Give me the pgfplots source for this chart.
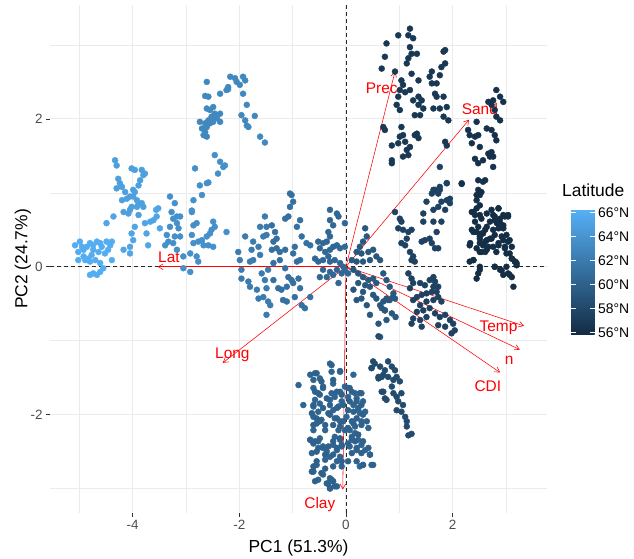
\documentclass[border=0pt]{standalone}
\usepackage{fontspec}
\setmainfont{Liberation Sans}
\usepackage{pgfplots}
\usepackage{pgfplotstable}
\pgfplotsset{compat=1.18}
\usetikzlibrary{arrows.meta}
\definecolor{gridgrey}{RGB}{235,235,235}
\definecolor{labgrey}{RGB}{77,77,77}
\definecolor{tickgrey}{RGB}{51,51,51}
\definecolor{zeroline}{RGB}{40,40,40}
\tikzset{
  loadarrow/.style={red, line width=0.55bp, -{Straight Barb[length=4.9bp,width=5.7bp]}},
  zerodash/.style={zeroline, line width=0.7bp, dash pattern=on 4bp off 3bp},
}
\pgfplotsset{
  pts/.style={scatter, only marks, mark=*, mark size=3bp,
    scatter/use mapped color={draw=mapped color, fill=mapped color}},
}

% Clusters of PCA scores (PC1, PC2)
\pgfplotstableread{
x y
-5.08 0.29
-4.99 0.34
-4.95 0.27
-5.02 0.20
-4.92 0.23
-4.86 0.27
-4.80 0.32
-4.74 0.29
-4.67 0.34
-4.61 0.32
-4.58 0.27
-4.64 0.20
-4.74 0.23
-4.77 0.16
-4.83 0.11
-4.89 0.09
-5.02 0.09
-4.80 0.07
-4.70 0.09
-4.61 0.05
-4.55 -0.02
-4.61 -0.07
-4.67 -0.11
-4.80 -0.11
-4.74 -0.09
-4.52 0.18
-4.42 0.29
-4.39 0.34
-4.49 0.34
-4.39 0.09
-4.46 0.23
-4.92 0.14
}\cA
\pgfplotstableread{
x y
-4.49 0.59
-4.36 0.68
-4.17 0.23
-4.05 0.18
-4.05 0.27
-3.99 0.36
-4.02 0.45
-3.96 0.54
-3.74 0.45
-3.71 0.29
-3.77 0.59
-3.67 0.61
-3.61 0.63
-3.55 0.68
-3.56 0.77
-3.52 0.79
-3.49 0.52
}\cB
\pgfplotstableread{
x y
-4.33 1.44
-4.30 1.37
-4.27 1.19
-4.24 1.13
-4.30 1.06
-4.20 1.08
-4.14 1.01
-4.20 0.90
-4.11 0.92
-4.05 0.95
-3.99 0.95
-3.92 0.90
-3.89 0.86
-3.83 0.86
-3.96 1.01
-3.99 1.04
-3.89 1.10
-3.86 1.17
-3.80 1.24
-3.77 1.26
-3.83 1.31
-4.02 1.33
-3.96 1.31
-4.17 0.74
-4.08 0.72
-4.02 0.81
-4.05 0.77
-3.89 0.70
-3.92 0.81
-3.80 0.81
}\cC
\pgfplotstableread{
x y
-3.30 0.95
-3.21 0.86
-3.27 0.74
-3.24 0.65
-3.17 0.68
-3.11 0.68
-3.17 0.59
-3.14 0.52
-3.30 0.54
-3.36 0.43
-3.21 0.41
-3.11 0.41
-3.33 0.34
-3.24 0.32
-3.39 0.29
-3.17 0.23
-3.05 0.14
-2.92 0.18
-2.86 0.32
-2.89 0.43
-2.86 0.56
-2.80 0.59
-2.89 0.74
-2.86 0.90
-2.70 0.97
-2.74 1.10
-2.61 1.13
-2.83 1.33
-2.49 0.61
-2.46 0.54
-2.52 0.50
-2.55 0.45
-2.61 0.41
-2.70 0.36
-2.67 0.29
-2.77 0.34
-2.58 0.29
-2.49 0.27
-2.80 0.14
-2.77 0.07
-2.92 -0.07
-3.05 -0.02
-2.24 0.47
-2.46 1.51
-2.36 1.42
-2.30 1.35
-2.27 1.37
-2.40 1.26
-2.58 1.14
-2.89 0.76
}\cD
\pgfplotstableread{
x y
-2.61 2.50
-2.64 2.31
-2.58 2.30
-2.61 2.14
-2.55 2.12
-2.49 2.16
-2.46 2.07
-2.36 2.07
-2.42 2.01
-2.52 2.03
-2.58 1.98
-2.64 1.94
-2.74 1.96
-2.70 1.87
-2.61 1.89
-2.55 1.94
-2.49 1.96
-2.67 1.78
-2.61 1.76
-2.64 1.82
-2.36 1.96
-2.36 2.34
-2.24 2.39
-2.21 2.43
-2.17 2.57
-2.08 2.55
-2.05 2.50
-1.93 2.57
-1.89 2.52
-1.99 2.46
-1.93 2.34
-1.96 2.05
-1.89 1.98
-1.83 1.89
-1.86 1.91
-1.71 2.04
-1.61 1.76
-1.52 1.68
-1.86 2.19
-2.21 2.40
}\cE
\pgfplotstableread{
x y
-1.52 0.68
-1.61 0.54
-1.49 0.54
-1.55 0.41
-1.49 0.43
-1.89 0.41
-1.74 0.34
-1.64 0.27
-1.77 0.23
-1.74 0.09
-1.80 0.07
-1.61 0.16
-2.02 0.20
-1.99 0.09
-1.96 -0.04
-1.96 -0.16
-1.83 -0.20
-1.80 -0.27
-1.67 -0.31
-1.64 -0.43
-1.55 -0.41
-1.49 -0.29
-1.52 -0.18
-1.46 -0.04
-1.58 -0.09
-1.42 -0.52
-1.49 -0.65
-1.46 -0.47
}\cF
\pgfplotstableread{
x y
-1.05 0.99
-1.02 0.97
-1.05 0.81
-0.99 0.88
-1.14 0.65
-1.08 0.68
-0.86 0.63
-0.92 0.54
-0.83 0.41
-0.67 0.29
-0.74 0.32
-0.96 0.27
-0.99 0.18
-0.86 0.09
-0.92 0.07
-1.14 0.23
-1.24 0.20
-1.30 0.25
-1.24 0.09
-1.14 -0.02
-1.08 -0.14
-1.02 -0.18
-0.89 -0.16
-0.86 -0.29
-0.99 -0.22
-1.11 -0.27
-1.21 -0.31
-1.27 -0.29
-1.36 -0.18
-1.39 0.56
-1.33 0.47
-1.36 0.34
-1.30 0.38
-1.39 0.23
-1.36 0.05
-1.11 -0.47
-0.96 -0.41
-0.77 -0.56
-0.83 -0.52
-0.67 -0.41
-1.18 -0.45
}\cG
\pgfplotstableread{
x y
-0.30 0.77
-0.17 0.72
-0.14 0.68
-0.30 0.63
-0.24 0.56
-0.02 0.59
-0.33 0.47
-0.30 0.41
-0.36 0.34
-0.43 0.32
-0.52 0.34
-0.49 0.25
-0.39 0.20
-0.30 0.23
-0.24 0.27
-0.17 0.29
-0.11 0.25
-0.02 0.27
-0.33 0.14
-0.43 0.09
-0.52 0.07
-0.30 0.07
-0.21 0.09
-0.11 0.05
-0.05 0.00
-0.17 -0.04
-0.30 -0.07
-0.43 -0.04
-0.49 -0.14
-0.36 -0.14
-0.24 -0.11
-0.14 -0.22
-0.02 -0.04
0.04 -0.09
-0.08 -0.09
-0.58 0.11
}\cH
\pgfplotstableread{
x y
0.36 0.52
0.39 0.41
0.32 0.34
0.26 0.27
0.20 0.20
0.29 0.18
0.42 0.20
0.51 0.23
0.57 0.14
0.64 0.09
0.45 0.09
0.32 0.07
0.20 0.07
0.11 0.09
0.14 -0.04
0.23 -0.09
0.32 -0.14
0.42 -0.18
0.51 -0.16
0.57 -0.22
0.45 -0.27
0.36 -0.25
0.23 -0.22
0.14 -0.31
0.32 -0.34
0.29 -0.43
0.20 -0.45
0.39 -0.52
0.45 -0.65
0.64 -0.52
0.70 -0.47
0.76 -0.43
0.82 -0.45
0.88 -0.41
0.73 -0.59
0.67 -0.56
0.61 -0.77
0.64 -0.95
0.57 -0.43
0.51 -0.38
0.70 -0.09
0.76 -0.18
0.82 -0.27
0.89 -0.36
0.92 -0.43
0.79 -0.45
0.73 -0.59
0.86 -0.63
0.93 -0.68
0.76 -0.72
}\cI
\pgfplotstableread{
x y
0.92 0.74
1.01 0.65
1.04 0.61
0.98 0.52
1.07 0.50
1.17 0.47
1.23 0.50
1.14 0.38
1.04 0.32
1.11 0.29
1.20 0.20
1.26 0.14
1.23 0.09
1.29 0.07
1.42 0.34
1.48 0.36
1.57 0.38
1.61 0.32
1.67 0.25
1.73 0.25
1.70 0.47
1.64 0.61
1.79 0.61
1.45 0.61
1.45 0.72
1.64 0.77
1.73 0.81
1.86 0.77
1.79 0.88
1.89 0.90
1.95 0.86
1.73 0.99
1.76 1.04
1.64 1.04
1.89 1.13
2.17 1.13
1.17 -0.09
1.23 -0.16
1.26 -0.22
1.20 -0.29
1.39 -0.22
1.48 -0.25
1.57 -0.18
1.64 -0.14
1.67 -0.20
1.73 -0.27
1.61 -0.34
1.51 -0.36
1.42 -0.38
1.33 -0.41
1.26 -0.45
1.39 -0.52
1.51 -0.47
1.64 -0.45
1.73 -0.41
1.79 -0.47
1.57 -0.56
1.45 -0.59
1.33 -0.61
1.26 -0.70
1.39 -0.72
1.51 -0.68
1.67 -0.63
1.76 -0.68
1.86 -0.65
1.95 -0.72
2.01 -0.77
2.04 -0.86
1.98 -0.90
1.86 -0.81
1.73 -0.79
1.42 -0.81
1.23 -0.77
1.64 -0.27
1.70 -0.34
1.76 1.35
1.76 1.08
1.67 1.04
1.61 0.99
1.89 1.13
1.95 0.92
1.51 0.88
}\cJ
\pgfplotstableread{
x y
1.20 3.22
1.17 3.13
1.26 3.09
0.98 3.13
0.76 3.02
0.73 2.84
0.67 2.68
0.92 2.64
1.20 2.97
1.23 2.88
1.33 2.88
1.17 2.82
1.14 2.75
1.23 2.61
1.36 2.52
1.61 2.64
1.57 2.57
1.61 2.48
1.70 2.48
1.76 2.59
1.79 2.70
1.86 2.75
1.86 2.93
1.83 2.91
1.67 2.34
1.70 2.30
1.83 2.30
1.76 2.14
1.64 2.14
1.89 2.16
1.83 2.03
1.92 1.98
1.04 2.52
1.07 2.46
1.01 2.39
0.98 2.30
1.11 2.36
1.20 2.39
1.26 2.25
1.36 2.30
1.42 2.25
1.36 2.19
1.45 2.14
1.39 2.05
1.29 2.05
0.95 2.19
1.01 2.12
0.70 1.89
0.73 1.85
1.04 1.89
1.07 1.78
1.01 1.76
0.98 1.67
1.11 1.69
1.29 1.78
1.36 1.74
1.33 1.80
1.20 1.62
1.14 1.58
1.07 1.49
0.86 1.64
0.86 1.44
0.86 1.40
1.17 1.51
1.86 1.69
1.89 1.64
}\cK
\pgfplotstableread{
x y
2.82 2.39
2.89 2.30
2.95 2.23
2.76 2.25
2.67 2.23
2.73 2.19
2.79 2.12
2.82 2.03
2.89 1.98
2.64 1.87
2.73 1.85
2.79 1.78
2.82 1.71
2.45 1.96
2.29 1.85
2.32 1.78
2.42 1.76
2.36 1.67
2.48 1.78
2.51 1.62
2.42 1.46
2.48 1.40
2.57 1.44
2.67 1.53
2.73 1.55
2.76 1.49
2.70 1.49
2.76 1.35
2.57 1.15
2.48 1.04
2.17 1.12
2.48 1.17
2.61 1.17
2.51 0.97
2.45 0.90
}\cL
\pgfplotstableread{
x y
2.36 0.74
2.45 0.79
2.51 0.70
2.42 0.61
2.36 0.50
2.45 0.47
2.51 0.41
2.57 0.45
2.64 0.54
2.70 0.61
2.79 0.68
2.86 0.79
2.89 0.65
2.98 0.68
3.04 0.68
2.95 0.56
2.86 0.52
2.79 0.43
2.70 0.38
2.61 0.34
2.51 0.32
2.45 0.25
2.54 0.20
2.64 0.23
2.76 0.27
2.86 0.32
2.95 0.36
3.01 0.43
3.04 0.34
2.98 0.25
3.07 0.18
3.11 0.11
3.17 0.07
3.20 0.02
3.01 0.00
3.04 -0.09
3.11 -0.14
3.14 -0.27
2.79 0.00
2.92 -0.05
2.51 0.00
2.45 -0.16
2.33 0.32
2.39 0.09
2.73 0.77
2.83 0.59
2.64 0.72
2.45 0.97
2.54 1.01
2.51 0.83
2.39 0.74
2.42 0.70
2.54 0.65
2.39 0.47
2.32 0.29
2.48 0.54
2.54 0.45
2.61 0.50
2.51 0.38
2.64 0.36
2.57 0.29
2.67 0.27
2.61 0.20
2.51 0.20
2.73 0.38
2.76 0.50
2.79 0.63
2.86 0.79
2.76 0.70
2.89 0.59
2.95 0.70
3.04 0.70
2.95 0.52
2.92 0.41
2.86 0.29
2.82 0.20
2.98 0.27
3.07 0.36
3.11 0.27
3.01 0.18
3.11 0.11
3.17 0.07
3.20 0.05
2.39 0.09
2.32 0.07
2.79 0.00
2.89 -0.04
2.95 -0.11
3.07 -0.11
2.48 -0.09
2.51 -0.04
}\cLb
\pgfplotstableread{
x y
-0.89 -1.60
-0.80 -1.87
-0.67 -1.46
-0.61 -1.53
-0.55 -1.44
-0.49 -1.51
-0.43 -1.62
-0.61 -1.64
-0.52 -1.71
-0.58 -1.80
-0.49 -1.85
-0.61 -1.89
-0.52 -1.96
-0.61 -2.03
-0.55 -2.12
-0.46 -2.07
-0.39 -2.21
-0.61 -2.21
-0.67 -2.34
-0.58 -2.36
-0.49 -2.32
-0.52 -2.45
-0.64 -2.52
-0.43 -2.43
-0.36 -2.50
-0.30 -2.57
-0.39 -2.61
-0.55 -2.68
-0.61 -2.77
-0.43 -2.81
-0.52 -2.88
-0.33 -2.93
-0.27 -2.88
-0.21 -2.97
-0.30 -2.99
-0.30 -1.31
-0.27 -1.42
-0.24 -1.58
-0.27 -1.71
-0.30 -1.80
-0.21 -1.76
-0.11 -1.69
-0.08 -1.82
-0.14 -1.89
-0.24 -1.94
-0.33 -1.98
-0.21 -2.05
-0.11 -2.09
-0.14 -2.21
-0.21 -2.30
-0.11 -2.34
-0.24 -2.41
-0.17 -2.48
-0.08 -2.43
-0.11 -2.57
-0.17 -2.63
-0.08 -2.70
-0.11 -1.42
0.14 -1.46
0.07 -1.64
0.17 -1.71
0.04 -1.76
0.20 -1.78
0.14 -1.87
0.23 -1.94
0.29 -1.71
0.32 -1.82
0.26 -1.98
0.36 -1.96
0.29 -2.09
0.42 -2.18
0.14 -2.12
0.07 -2.21
0.17 -2.25
0.11 -2.34
0.23 -2.34
0.29 -2.41
0.20 -2.48
0.36 -2.48
0.45 -2.54
0.51 -2.68
0.32 -2.68
0.26 -2.70
0.07 -2.43
-0.02 -2.21
0.01 -2.03
-0.02 -1.62
}\cM
\pgfplotstableread{
x y
-0.58 -1.44
-0.46 -1.55
-0.58 -1.69
-0.49 -1.73
-0.43 -1.64
-0.36 -1.78
-0.27 -1.33
-0.11 -1.41
-0.24 -1.53
-0.17 -1.69
-0.08 -1.73
-0.05 -1.87
-0.17 -1.91
-0.30 -1.87
-0.43 -1.91
-0.61 -1.87
-0.64 -1.98
-0.55 -2.05
-0.61 -2.14
-0.49 -2.09
-0.39 -2.14
-0.30 -2.00
-0.17 -2.05
-0.24 -2.14
-0.11 -2.16
-0.05 -2.09
0.04 -1.64
0.11 -1.69
0.26 -1.71
0.20 -1.82
0.07 -1.82
0.04 -1.94
0.14 -1.96
0.23 -1.91
0.29 -1.87
0.32 -2.00
0.20 -2.05
0.11 -2.09
0.04 -2.18
0.17 -2.16
0.29 -2.14
0.39 -2.09
0.23 -2.27
0.11 -2.30
0.04 -2.39
0.17 -2.36
0.32 -2.36
0.42 -2.45
0.45 -2.54
0.29 -2.52
0.20 -2.45
0.11 -2.52
0.04 -2.63
0.20 -2.63
0.32 -2.68
0.48 -2.68
-0.67 -2.34
-0.61 -2.39
-0.52 -2.36
-0.55 -2.50
-0.43 -2.45
-0.33 -2.43
-0.24 -2.36
-0.17 -2.45
-0.11 -2.32
-0.08 -2.41
-0.24 -2.54
-0.39 -2.54
-0.55 -2.63
-0.61 -2.70
-0.64 -2.77
-0.46 -2.79
-0.39 -2.73
-0.24 -2.70
-0.08 -2.63
-0.30 -2.86
-0.36 -2.93
-0.24 -2.90
-0.17 -2.97
-0.30 -3.00
-0.58 -2.90
}\cMb
\pgfplotstableread{
x y
0.61 -0.94
0.51 -1.28
0.48 -1.37
0.64 -1.35
0.73 -1.40
0.79 -1.28
0.86 -1.35
0.92 -1.40
0.95 -1.49
1.01 -1.55
0.89 -1.53
0.79 -1.49
0.67 -1.49
0.61 -1.51
0.70 -1.69
0.76 -1.80
0.86 -1.62
0.89 -1.71
0.95 -1.76
1.04 -1.71
0.98 -1.82
1.07 -1.87
0.95 -1.94
1.04 -1.96
1.11 -2.03
1.14 -2.09
1.14 -2.16
1.17 -2.28
1.23 -2.26
0.48 -1.37
0.54 -1.31
0.61 -1.49
0.70 -1.46
0.67 -1.69
0.73 -1.78
}\cN

\begin{document}
\begin{tikzpicture}
\begin{axis}[
  at={(50bp,46bp)}, anchor=south west,
  scale only axis, width=497bp, height=508bp,
  xmin=-5.55, xmax=3.77, ymin=-3.33, ymax=3.54,
  axis line style={draw=none},
  xtick={-4,-2,0,2}, xticklabels={-4,-2,0,2},
  ytick={-2,0,2}, yticklabels={-2,0,2},
  minor xtick={-5,-3,-1,1,3}, minor ytick={-3,-1,1,3},
  grid=both,
  major grid style={color=gridgrey, line width=1.0bp},
  minor grid style={color=gridgrey, line width=0.6bp},
  tick align=outside, tick pos=left,
  major tick length=4bp, minor tick length=0pt,
  tick style={color=tickgrey, line width=0.6bp},
  ticklabel style={font=\fontsize{13.5}{16}\selectfont, text=labgrey},
  xlabel={PC1 (51.3\%)}, ylabel={PC2 (24.7\%)},
  label style={font=\fontsize{17.5}{20}\selectfont},
  xlabel style={at={(axis description cs:0.5,-0.0768)}, anchor=base},
  ylabel style={at={(axis description cs:-0.0453,0.5)}, anchor=base},
  colormap={lat}{rgb255=(19,43,67) rgb255=(86,177,247)},
  point meta min=55.8, point meta max=66.3,
  colorbar shift/.style={},
  colorbar/width=23.5bp,
  colorbar,
  colorbar style={
    at={(parent axis.south east)}, anchor=south west,
    xshift=24bp, yshift=178bp,
    scale only axis, width=23.5bp, height=126bp,
    grid=none, xlabel={}, ylabel={},
    xtick=\empty,
    ytick={56,58,60,62,64,66},
    yticklabels={56°N,58°N,60°N,62°N,64°N,66°N},
    minor ytick={}, minor xtick={},
    axis line style={draw=none},
    tick align=inside, ytick pos=both, yticklabel pos=right,
    major tick length=4.5bp,
    tick style={color=white, line width=0.8bp},
    yticklabel style={font=\fontsize{14}{16}\selectfont, text=black},
  },
]
\addplot[pts, point meta={65.9}] table {\cA};
\addplot[pts, point meta={65.3}] table {\cB};
\addplot[pts, point meta={64.8}] table {\cC};
\addplot[pts, point meta={63.6}] table {\cD};
\addplot[pts, point meta={63.0}] table {\cE};
\addplot[pts, point meta={62.0}] table {\cF};
\addplot[pts, point meta={61.2}] table {\cG};
\addplot[pts, point meta={60.5}] table {\cH};
\addplot[pts, point meta={59.3}] table {\cI};
\addplot[pts, point meta={57.6}] table {\cJ};
\addplot[pts, point meta={56.8}] table {\cK};
\addplot[pts, point meta={56.3}] table {\cL};
\addplot[pts, point meta={56.0}] table {\cLb};
\addplot[pts, point meta={60.3}] table {\cM};
\addplot[pts, point meta={60.0}] table {\cMb};
\addplot[pts, point meta={58.3}] table {\cN};
% reference lines
\addplot[zerodash, no marks] coordinates {(-5.55,0) (3.77,0)};
\addplot[zerodash, no marks] coordinates {(0,-3.33) (0,3.54)};
% loading arrows
\addplot[loadarrow, no marks] coordinates {(0,0) (0.92,2.64)};
\addplot[loadarrow, no marks] coordinates {(0,0) (2.31,1.99)};
\addplot[loadarrow, no marks] coordinates {(0,0) (-3.53,0)};
\addplot[loadarrow, no marks] coordinates {(0,0) (-2.31,-1.30)};
\addplot[loadarrow, no marks] coordinates {(0,0) (3.34,-0.80)};
\addplot[loadarrow, no marks] coordinates {(0,0) (3.26,-1.12)};
\addplot[loadarrow, no marks] coordinates {(0,0) (2.89,-1.43)};
\addplot[loadarrow, no marks] coordinates {(0,0) (-0.06,-3.01)};
\begin{scope}[every node/.style={text=red, font=\fontsize{15.5}{18}\selectfont, inner sep=0pt}]
\node at (axis cs:0.67,2.42) {Prec};
\node at (axis cs:2.51,2.13) {Sand};
\node at (axis cs:-3.32,0.135) {Lat};
\node at (axis cs:-2.13,-1.19) {Long};
\node at (axis cs:2.86,-0.83) {Temp};
\node at (axis cs:3.06,-1.27) {n};
\node at (axis cs:2.66,-1.61) {CDI};
\node at (axis cs:-0.49,-3.21) {Clay};
\end{scope}
\end{axis}
\node[anchor=base west, inner sep=0pt, font=\fontsize{17.5}{20}\selectfont] at (562bp,362bp) {Latitude};
\pgfresetboundingbox
\useasboundingbox (0,0) rectangle (634bp,559bp);
\end{tikzpicture}
\end{document}
